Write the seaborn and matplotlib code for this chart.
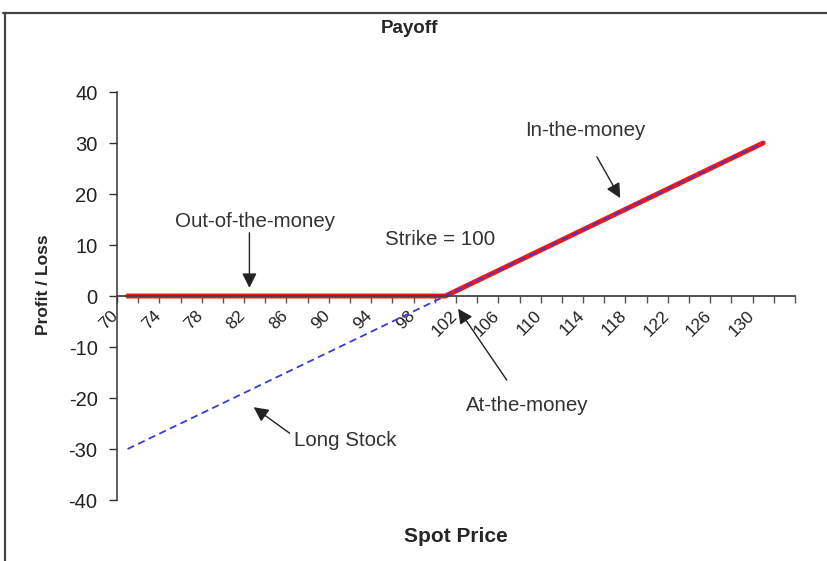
import numpy as np
import pandas as pd
import matplotlib
matplotlib.use("Agg")
import matplotlib.pyplot as plt
import matplotlib.transforms as mtransforms
import seaborn as sns
from matplotlib.lines import Line2D

# ---- data ----
spot = [70, 72, 74, 76, 78, 80, 82, 84, 86, 88, 90, 92, 94, 96, 98, 100,
        102, 104, 106, 108, 110, 112, 114, 116, 118, 120, 122, 124, 126, 128, 130]
call_payoff = [0, 0, 0, 0, 0, 0, 0, 0, 0, 0, 0, 0, 0, 0, 0, 0,
               2, 4, 6, 8, 10, 12, 14, 16, 18, 20, 22, 24, 26, 28, 30]
long_stock = [-30, -28, -26, -24, -22, -20, -18, -16, -14, -12, -10, -8, -6, -4, -2, 0,
              2, 4, 6, 8, 10, 12, 14, 16, 18, 20, 22, 24, 26, 28, 30]
tick_labels = [70, 74, 78, 82, 86, 90, 94, 98, 102, 106, 110, 114, 118, 122, 126, 130]
y_ticks = [-40, -30, -20, -10, 0, 10, 20, 30, 40]

df = pd.DataFrame({"Spot": spot, "Call": call_payoff, "Stock": long_stock})

sns.set_style("white")
plt.rcParams["font.family"] = ["Liberation Sans", "DejaVu Sans"]

fig = plt.figure(figsize=(8.28, 5.61), dpi=100)
ax = fig.add_axes([0.1413, 0.1087, 0.8188, 0.7273])

sns.lineplot(data=df, x="Spot", y="Call", ax=ax, color="#f01818", lw=3.6, zorder=3)
sns.lineplot(data=df, x="Spot", y="Stock", ax=ax, color="#3a3ad8", lw=1.3,
             dashes=False, zorder=4)
ax.lines[-1].set_linestyle((0, (4, 2.5)))

ax.set_xlim(69, 133)
ax.set_ylim(-40, 40)

for s in ["top", "right"]:
    ax.spines[s].set_visible(False)
ax.spines["left"].set_color("#333333")
ax.spines["left"].set_linewidth(1.1)
ax.spines["bottom"].set_position(("data", 0))
ax.spines["bottom"].set_color("#444444")
ax.spines["bottom"].set_linewidth(1.3)
ax.spines["bottom"].set_zorder(5)

ax.set_yticks(y_ticks)
ax.set_yticklabels([str(v) for v in y_ticks], fontsize=14.5, color="#222222")
ax.tick_params(axis="y", direction="out", length=6, width=1, color="#333333",
               left=True, pad=8)

ax.set_xticks(tick_labels)
ax.set_xticklabels([str(v) for v in tick_labels], fontsize=12.5, rotation=45,
                   ha="right", va="top", rotation_mode="anchor", color="#222222")
ax.set_xticks(np.arange(69, 134, 2), minor=True)
ax.tick_params(axis="x", which="major", length=0, pad=8.5)
ax.tick_params(axis="x", which="minor", direction="out", length=5, width=1,
               color="#555555", bottom=True)
shift = mtransforms.ScaledTranslation(-17 / 100, 0, fig.dpi_scale_trans)
for lab in ax.get_xticklabels():
    lab.set_transform(lab.get_transform() + shift)

ax.set_xlabel("")
ax.set_ylabel("")

fig.text(0.495, 0.950, "Payoff", ha="center", va="center", fontsize=13.5,
         fontweight="bold")
fig.text(0.053, 0.492, "Profit / Loss", ha="center", va="center", rotation=90,
         fontsize=12.5, fontweight="bold")
fig.text(0.55, 0.043, "Spot Price", ha="center", va="center", fontsize=15,
         fontweight="bold")

arrow = dict(arrowstyle="-|>", color="#222222", lw=1.0, mutation_scale=22,
             shrinkA=0, shrinkB=0)
tk = dict(fontsize=14.8, color="#333333", ha="center", va="center")

ax.text(82.0, 14.7, "Out-of-the-money", **tk)
ax.annotate("", xy=(81.5, 1.6), xytext=(81.5, 12.4), arrowprops=arrow)

ax.text(113.2, 32.5, "In-the-money", **tk)
ax.annotate("", xy=(116.5, 19.2), xytext=(114.3, 27.3), arrowprops=arrow)

ax.text(99.5, 11.0, "Strike = 100", **tk)

ax.text(107.7, -21.4, "At-the-money", **tk)
ax.annotate("", xy=(101.2, -2.5), xytext=(105.8, -16.5), arrowprops=arrow)

ax.text(90.5, -28.4, "Long Stock", **tk)
ax.annotate("", xy=(81.9, -21.8), xytext=(85.3, -26.9), arrowprops=arrow)

# figure frame (top and left edges)
fig.add_artist(Line2D([3 / 828, 1.0], [1 - 12.5 / 561, 1 - 12.5 / 561],
                      transform=fig.transFigure, color="#444444", lw=1.6))
fig.add_artist(Line2D([5 / 828, 5 / 828], [1 - 12.5 / 561, 0.0],
                      transform=fig.transFigure, color="#444444", lw=1.6))

fig.savefig("out.png", dpi=100)
